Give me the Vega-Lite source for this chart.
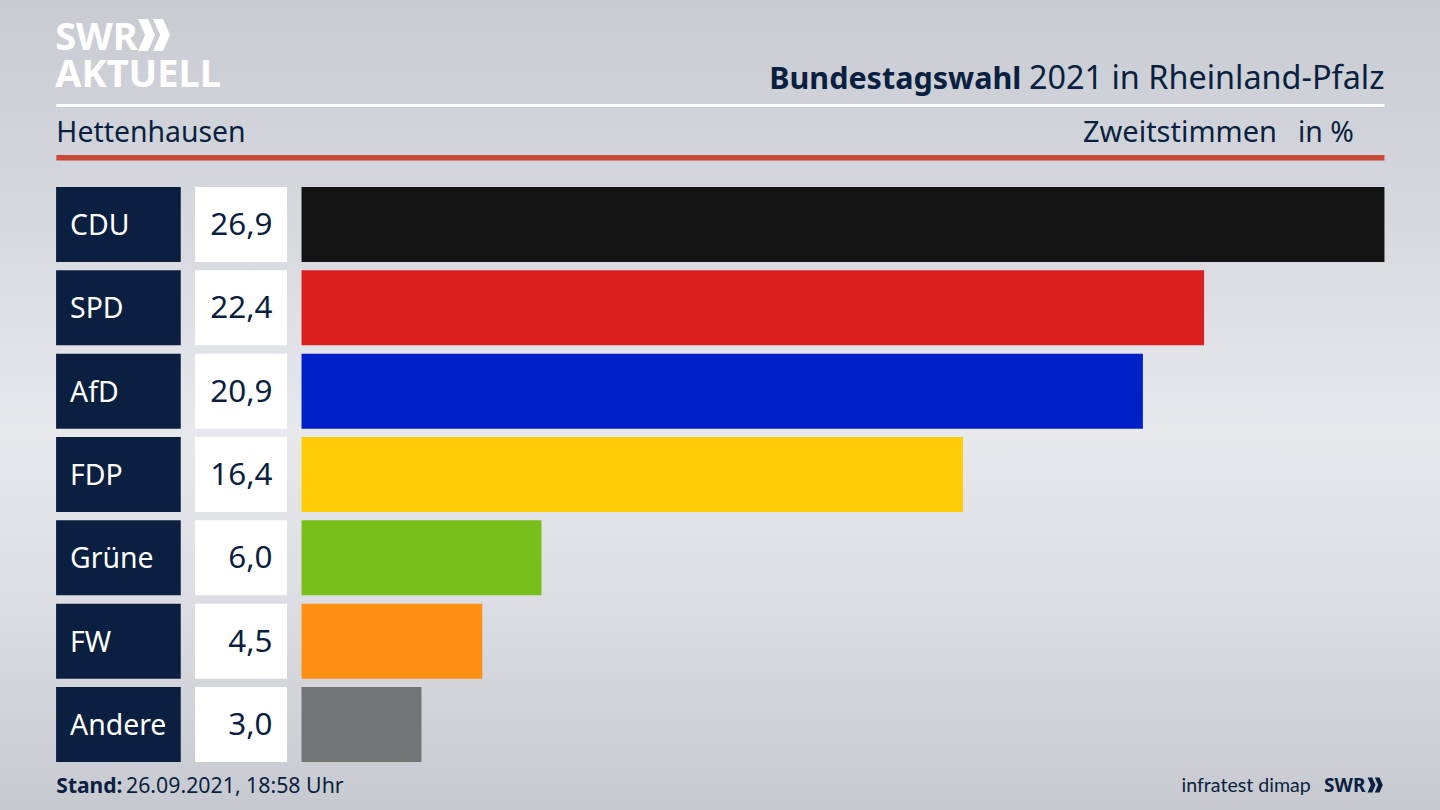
{"$schema":"https://vega.github.io/schema/vega-lite/v6.json","width":1440,"height":810,"padding":0,"autosize":{"type":"fit","contains":"padding"},"background":"#d8dadf","config":{"view":{"stroke":null},"font":"Noto Sans"},
"datasets":{"parties":[{"party":"CDU","value":26.9,"label":"26,9","color":"#141414"},{"party":"SPD","value":22.42,"label":"22,4","color":"#da1f1f"},{"party":"AfD","value":20.9,"label":"20,9","color":"#0021c8"},{"party":"FDP","value":16.43,"label":"16,4","color":"#ffcc08"},{"party":"Grüne","value":5.96,"label":"6,0","color":"#78be1a"},{"party":"FW","value":4.49,"label":"4,5","color":"#ff8f14"},{"party":"Andere","value":2.98,"label":"3,0","color":"#737475"}],"sheet":[{"k":1}]},
"layer":[
{"data":{"name":"sheet"},
"layer":[
{"mark":{"type":"rect","color":{"gradient":"linear","x1":0,"y1":0,"x2":0,"y2":1,"stops":[{"offset":0,"color":"#c8cbd2"},{"offset":0.3,"color":"#d8dae0"},{"offset":0.53,"color":"#e8e9ed"},{"offset":0.75,"color":"#dbdde2"},{"offset":1,"color":"#c6c9d0"}]}},"encoding":{"x":{"datum":-7.49,"type":"quantitative","scale":{"domain":[-7.49,28.28],"nice":false,"zero":false},"axis":null},"x2":{"datum":28.28},"y":{"datum":0,"type":"quantitative","scale":{"domain":[0,810],"reverse":true,"nice":false,"zero":false},"axis":null},"y2":{"datum":810}}},
{"mark":{"type":"rect","color":"#ffffff"},"encoding":{"x":{"datum":-6.09,"type":"quantitative"},"x2":{"datum":26.9},"y":{"datum":104,"type":"quantitative"},"y2":{"datum":107}}},
{"mark":{"type":"rect","color":"#c8493a"},"encoding":{"x":{"datum":-6.09,"type":"quantitative"},"x2":{"datum":26.9},"y":{"datum":155,"type":"quantitative"},"y2":{"datum":160.5}}},
{"mark":{"type":"text","text":"SWR","fontWeight":"bold","fontSize":38,"color":"#ffffff","align":"left","baseline":"alphabetic"},"encoding":{"x":{"datum":-6.12,"type":"quantitative"},"y":{"datum":50,"type":"quantitative"}}},
{"mark":{"type":"point","shape":"M-0.53,-1 L0.09,-1 L0.53,0 L0.09,1 L-0.53,1 L-0.09,0 Z","size":1024,"filled":true,"color":"#ffffff","opacity":1},"encoding":{"x":{"datum":-3.85,"type":"quantitative"},"y":{"datum":35,"type":"quantitative"}}},
{"mark":{"type":"point","shape":"M-0.53,-1 L0.09,-1 L0.53,0 L0.09,1 L-0.53,1 L-0.09,0 Z","size":1024,"filled":true,"color":"#ffffff","opacity":1},"encoding":{"x":{"datum":-3.477,"type":"quantitative"},"y":{"datum":35,"type":"quantitative"}}},
{"mark":{"type":"text","text":"AKTUELL","fontWeight":"bold","fontSize":38,"color":"#ffffff","align":"left","baseline":"alphabetic"},"encoding":{"x":{"datum":-6.12,"type":"quantitative"},"y":{"datum":87,"type":"quantitative"}}},
{"mark":{"type":"text","text":"2021 in Rheinland-Pfalz","fontSize":32.4,"color":"#0b1f40","align":"right","baseline":"alphabetic"},"encoding":{"x":{"datum":26.9,"type":"quantitative"},"y":{"datum":89,"type":"quantitative"}}},
{"mark":{"type":"text","text":"Bundestagswahl","fontSize":30.5,"fontWeight":"bold","color":"#0b1f40","align":"right","baseline":"alphabetic"},"encoding":{"x":{"datum":17.88,"type":"quantitative"},"y":{"datum":89,"type":"quantitative"}}},
{"mark":{"type":"text","text":"Hettenhausen","fontSize":28.4,"color":"#0b1f40","align":"left","baseline":"alphabetic"},"encoding":{"x":{"datum":-6.09,"type":"quantitative"},"y":{"datum":142,"type":"quantitative"}}},
{"mark":{"type":"text","text":"Zweitstimmen","fontSize":29,"color":"#0b1f40","align":"right","baseline":"alphabetic"},"encoding":{"x":{"datum":24.23,"type":"quantitative"},"y":{"datum":142,"type":"quantitative"}}},
{"mark":{"type":"text","text":"in %","fontSize":28.4,"color":"#0b1f40","align":"right","baseline":"alphabetic"},"encoding":{"x":{"datum":26.14,"type":"quantitative"},"y":{"datum":142,"type":"quantitative"}}},
{"mark":{"type":"text","text":"Stand:","fontSize":21,"fontWeight":"bold","color":"#0b1f40","align":"left","baseline":"alphabetic"},"encoding":{"x":{"datum":-6.09,"type":"quantitative"},"y":{"datum":793,"type":"quantitative"}}},
{"mark":{"type":"text","text":"26.09.2021, 18:58 Uhr","fontSize":21.3,"color":"#0b1f40","align":"left","baseline":"alphabetic"},"encoding":{"x":{"datum":-4.36,"type":"quantitative"},"y":{"datum":793,"type":"quantitative"}}},
{"mark":{"type":"text","text":"infratest dimap","font":"Lato","fontSize":19.6,"color":"#0b1f40","align":"right","baseline":"alphabetic"},"encoding":{"x":{"datum":25.07,"type":"quantitative"},"y":{"datum":792,"type":"quantitative"}}},
{"mark":{"type":"text","text":"SWR","fontSize":19,"fontWeight":"bold","color":"#0b1f40","align":"left","baseline":"alphabetic"},"encoding":{"x":{"datum":25.4,"type":"quantitative"},"y":{"datum":792,"type":"quantitative"}}},
{"mark":{"type":"point","shape":"M-0.53,-1 L0.09,-1 L0.53,0 L0.09,1 L-0.53,1 L-0.09,0 Z","size":225,"filled":true,"color":"#0b1f40","opacity":1},"encoding":{"x":{"datum":26.58,"type":"quantitative"},"y":{"datum":785,"type":"quantitative"}}},
{"mark":{"type":"point","shape":"M-0.53,-1 L0.09,-1 L0.53,0 L0.09,1 L-0.53,1 L-0.09,0 Z","size":225,"filled":true,"color":"#0b1f40","opacity":1},"encoding":{"x":{"datum":26.76,"type":"quantitative"},"y":{"datum":785,"type":"quantitative"}}}
]},
{"data":{"name":"parties"},"encoding":{"y":{"field":"party","type":"nominal","sort":null,"axis":null,"scale":{"range":[187,762],"paddingInner":0.1,"paddingOuter":0}}},
"layer":[
{"mark":{"type":"rect","color":"#0b1f40"},"encoding":{"x":{"datum":-6.097,"type":"quantitative"},"x2":{"datum":-3.0}}},
{"mark":{"type":"rect","color":"#ffffff"},"encoding":{"x":{"datum":-2.645,"type":"quantitative"},"x2":{"datum":-0.36}}},
{"mark":{"type":"bar"},"encoding":{"x":{"field":"value","type":"quantitative"},"x2":{"datum":0},"color":{"field":"color","type":"nominal","scale":null}}},
{"mark":{"type":"text","fontSize":28.4,"color":"#ffffff","align":"left","baseline":"middle","dy":1.5},"encoding":{"x":{"datum":-5.75,"type":"quantitative"},"text":{"field":"party","type":"nominal"}}},
{"mark":{"type":"text","fontSize":31.4,"color":"#0b1f40","align":"right","baseline":"middle","dy":1.5},"encoding":{"x":{"datum":-0.72,"type":"quantitative"},"text":{"field":"label","type":"nominal"}}}
]}
],
"resolve":{"scale":{"y":"independent"}}}
